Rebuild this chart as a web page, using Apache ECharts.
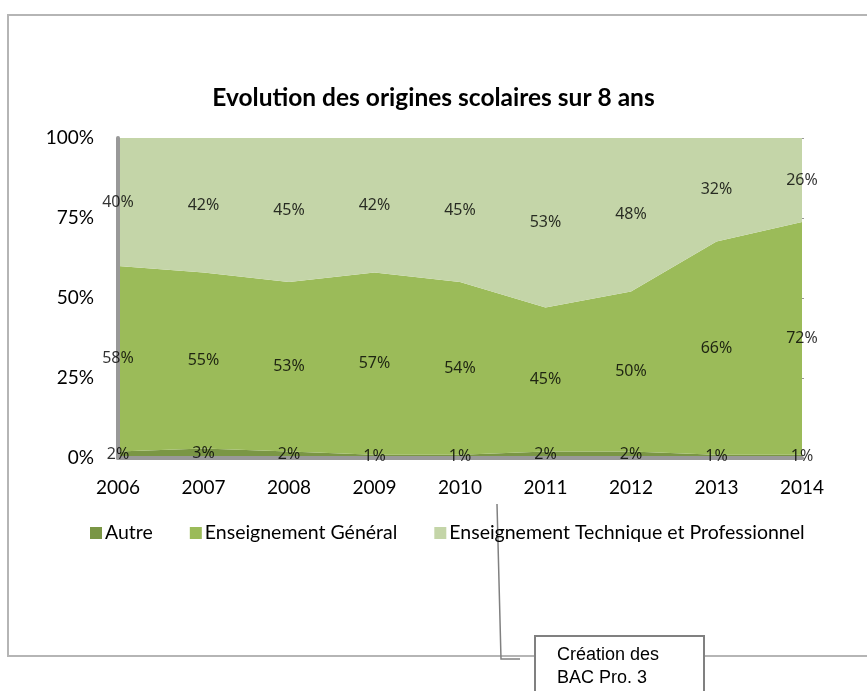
<!DOCTYPE html>
<html>
<head>
<meta charset="utf-8">
<script src="https://cdn.jsdelivr.net/npm/echarts@6/dist/echarts.min.js"></script>
<style>
  html, body { margin: 0; padding: 0; background: #fff; }
  #chart { width: 867px; height: 691px; }
</style>
</head>
<body>
<div id="chart"></div>
<script>
var years = ['2006', '2007', '2008', '2009', '2010', '2011', '2012', '2013', '2014']
var autre = [2, 3, 2, 1, 1, 2, 2, 1, 1]
var general = [58, 55, 53, 57, 54, 45, 50, 66, 72]
var technique = [40, 42, 45, 42, 45, 53, 48, 32, 26]
var yTicks = [0, 25, 50, 75, 100]

var font = 'Lato'
var grey = '#999'

// percent stacked, like the spreadsheet does it
var totals = years.map(function (y, i) { return autre[i] + general[i] + technique[i] })
function pct (arr) {
  return arr.map(function (v, i) { return v * 100 / totals[i] })
}
var pA = pct(autre)
var pG = pct(general)
var pT = pct(technique)

// label anchor in the middle of each band
function mids (base, band, raw) {
  return band.map(function (v, i) {
    return { value: [i, base[i] + v / 2], raw: raw[i] }
  })
}
var zero = years.map(function () { return 0 })
var baseT = pA.map(function (v, i) { return v + pG[i] })

function areaSeries (name, data, color) {
  return {
    name: name,
    type: 'line',
    stack: 'total',
    data: data,
    symbol: 'none',
    lineStyle: { width: 0 },
    itemStyle: { color: color },
    areaStyle: { color: color, opacity: 1 },
    emphasis: { disabled: true },
    z: 2
  }
}
function labelSeries (data) {
  return {
    type: 'scatter',
    data: data,
    symbolSize: 0,
    itemStyle: { color: '#000' },
    label: {
      show: true,
      position: 'inside',
      formatter: function (p) { return p.data.raw + '%' },
      color: '#000',
      textBorderWidth: 0,
      fontFamily: 'Noto Sans',
      fontSize: 16
    },
    silent: true,
    z: 5
  }
}

var myChart = echarts.init(document.getElementById('chart'))
var option = {
  animation: false,
  title: {
    text: 'Evolution des origines scolaires sur 8 ans',
    left: 'center',
    top: 81,
    textStyle: { fontFamily: font, fontWeight: 'bold', fontSize: 24.5, color: '#000' }
  },
  legend: {
    left: 85,
    top: 518,
    icon: 'rect',
    itemWidth: 12,
    itemHeight: 12,
    itemGap: 37,
    data: ['Autre', 'Enseignement Général', 'Enseignement Technique et Professionnel'],
    textStyle: { fontFamily: font, fontSize: 19.5, color: '#000', padding: [0, 0, 0, -2] }
  },
  grid: { left: 118, right: 65, top: 138, bottom: 233 },
  xAxis: [{
    type: 'category',
    data: years,
    boundaryGap: false,
    axisLine: { lineStyle: { color: grey, width: 4 } },
    axisTick: { show: false },
    axisLabel: { color: '#000', fontFamily: font, fontSize: 19, margin: 20 },
    z: 3
  }, {
    type: 'category',
    data: years,
    position: 'top',
    boundaryGap: false,
    axisLine: { lineStyle: { color: '#999', width: 1 } },
    axisTick: { show: false },
    axisLabel: { show: false }
  }],
  yAxis: [{
    type: 'value',
    min: yTicks[0],
    max: yTicks[yTicks.length - 1],
    interval: 25,
    axisLine: { show: true, lineStyle: { color: grey, width: 4 } },
    axisTick: { show: false },
    splitLine: { show: false },
    axisLabel: {
      color: '#000',
      fontFamily: font,
      fontSize: 19,
      margin: 24,
      formatter: function (v) { return v + '%' }
    },
    z: 3
  }, {
    type: 'value',
    position: 'right',
    min: yTicks[0],
    max: yTicks[yTicks.length - 1],
    interval: 25,
    axisLine: { show: false },
    axisTick: { show: true, length: 2, lineStyle: { color: '#999' } },
    axisLabel: { show: false },
    splitLine: { show: false }
  }],
  series: [
    areaSeries('Autre', pA, '#7a9645'),
    areaSeries('Enseignement Général', pG, '#9bbb59'),
    areaSeries('Enseignement Technique et Professionnel', pT, '#c4d5a8'),
    labelSeries(mids(zero, pA, autre)),
    labelSeries(mids(pA, pG, general)),
    labelSeries(mids(baseT, pT, technique))
  ],
  graphic: [
    // outer frame of the sheet chart
    { type: 'polyline', shape: { points: [[867, 15], [8, 15], [8, 656], [534, 656]] }, style: { stroke: '#b5b5b5', lineWidth: 2, fill: null } },
    { type: 'line', shape: { x1: 705, y1: 656, x2: 867, y2: 656 }, style: { stroke: '#b5b5b5', lineWidth: 2 } },
    // callout
    { type: 'polyline', shape: { points: [[497, 504], [501, 659], [520, 659]] }, style: { stroke: '#808080', lineWidth: 1.5, fill: null } },
    { type: 'rect', shape: { x: 535, y: 636, width: 169, height: 70 }, style: { fill: '#fff', stroke: '#808080', lineWidth: 2 } },
    {
      type: 'text',
      left: 557,
      top: 644,
      style: {
        text: 'Création des\nBAC Pro. 3',
        font: '18px "Liberation Sans", Arial, sans-serif',
        lineHeight: 23,
        fill: '#000'
      }
    }
  ]
}
myChart.setOption(option)
</script>
</body>
</html>
